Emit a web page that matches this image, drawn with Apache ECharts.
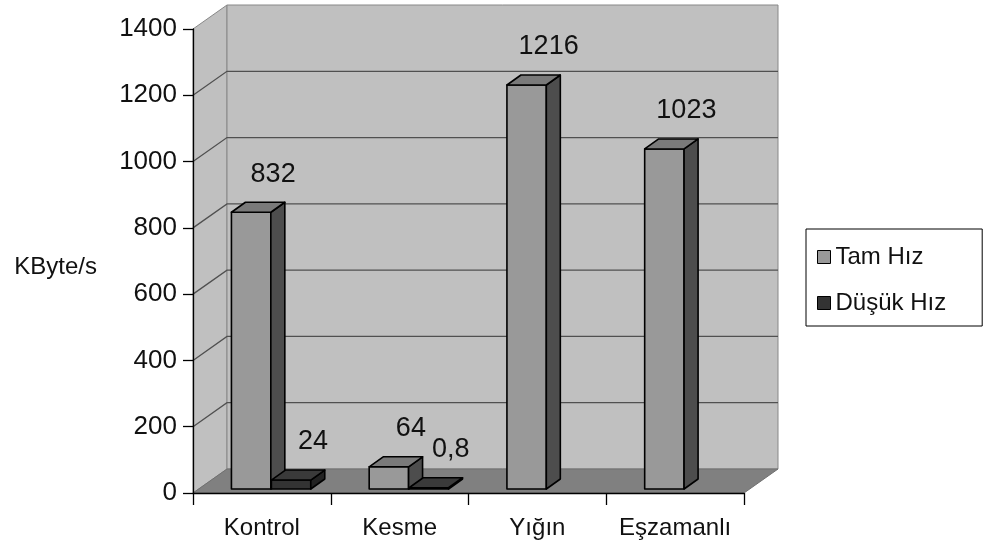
<!DOCTYPE html>
<html>
<head>
<meta charset="utf-8">
<script src="https://cdn.jsdelivr.net/npm/echarts@6/dist/echarts.min.js"></script>
<style>
  html, body { margin: 0; padding: 0; background: #fff; }
  #chart { width: 986px; height: 542px; }
</style>
</head>
<body>
<div id="chart"></div>
<script>
// veriler
const categories = ['Kontrol', 'Kesme', 'Yığın', 'Eşzamanlı'];
const tamHiz = [832, 64, 1216, 1023];
const dusukHiz = [24, 0.8, null, null];
const yMax = 1400;
const yStep = 200;
const yTicks = [0, 200, 400, 600, 800, 1000, 1200, 1400];

const FONT = '"Liberation Sans", Arial, sans-serif';
const WALL_DX = 34, WALL_DY = -24;   // duvar derinliği
const BAR_DX = 14, BAR_DY = -10;     // sütun derinliği

var myChart = echarts.init(document.getElementById('chart'));

// arka duvar, yan duvar, zemin
let renderWalls = (params, api) => {
    const cs = params.coordSys;
    const L = cs.x, T = cs.y, R = cs.x + cs.width, B = cs.y + cs.height;
    let children = [
        { type: 'polygon', shape: { points: [[L, T], [L + WALL_DX, T + WALL_DY], [L + WALL_DX, B + WALL_DY], [L, B]] },
          style: { fill: '#c0c0c0', stroke: '#888', lineWidth: 1 } },
        { type: 'rect', shape: { x: L + WALL_DX, y: T + WALL_DY, width: cs.width, height: cs.height },
          style: { fill: '#c0c0c0', stroke: '#888', lineWidth: 1 } }
    ];
    yTicks.forEach(v => {
        if (v === 0 || v === yMax) return;
        const y = api.coord([0, v])[1];
        children.push({ type: 'polyline', shape: { points: [[L, y], [L + WALL_DX, y + WALL_DY], [R + WALL_DX, y + WALL_DY]] },
            style: { fill: null, stroke: '#505050', lineWidth: 1.3 } });
    });
    children.push({ type: 'polygon', shape: { points: [[L, B], [R, B], [R + WALL_DX, B + WALL_DY], [L + WALL_DX, B + WALL_DY]] },
        style: { fill: '#808080', stroke: '#707070', lineWidth: 1 } });
    return { type: 'group', children: children };
};

// 3B sütun
let makeBar = (shift, colors, fmt) => {
    return (params, api) => {
        const v = api.value(1);
        if (v == null || isNaN(v)) return;
        const i = api.value(0);
        const band = api.size([1, 0])[0];
        const b = api.coord([i, 0]);
        const t = api.coord([i, v]);
        const w = band * 0.286;
        const x0 = b[0] + band * shift;
        const yb = b[1] - 4;
        const yt = t[1] - 5;
        const line = { stroke: '#000', lineWidth: 1.6, lineJoin: 'round' };
        return {
            type: 'group',
            children: [
                { type: 'rect', shape: { x: x0, y: yt, width: w, height: yb - yt },
                  style: Object.assign({ fill: colors[0] }, line) },
                { type: 'polygon', shape: { points: [[x0 + w, yt], [x0 + w + BAR_DX, yt + BAR_DY], [x0 + w + BAR_DX, yb + BAR_DY], [x0 + w, yb]] },
                  style: Object.assign({ fill: colors[1] }, line) },
                { type: 'polygon', shape: { points: [[x0, yt], [x0 + BAR_DX, yt + BAR_DY], [x0 + w + BAR_DX, yt + BAR_DY], [x0 + w, yt]] },
                  style: Object.assign({ fill: colors[2] }, line) },
                { type: 'text', style: { x: x0 + w / 2 + 22, y: yt - 38, text: fmt(v), fill: '#111',
                  font: '27px ' + FONT, align: 'center', verticalAlign: 'middle' } }
            ]
        };
    };
};

let fmtTR = v => String(v).replace('.', ',');

let option = {
    animation: false,
    backgroundColor: '#fff',
    textStyle: { fontFamily: FONT },
    grid: { left: 193, top: 29, width: 551, height: 464 },
    legend: {
        orient: 'vertical',
        left: 806, top: 229,
        data: ['Tam Hız', 'Düşük Hız'],
        icon: 'rect',
        itemWidth: 13, itemHeight: 13,
        itemGap: 20,
        padding: [15, 36, 10, 11],
        borderColor: '#000', borderWidth: 1,
        itemStyle: { borderColor: '#000', borderWidth: 1 },
        textStyle: { fontSize: 24, lineHeight: 26, color: '#111', fontFamily: FONT }
    },
    xAxis: {
        type: 'category',
        data: categories,
        z: 5,
        axisLine: { lineStyle: { color: '#000', width: 1.3 } },
        axisTick: { show: true, interval: 0, length: 12, lineStyle: { color: '#000', width: 1.3 } },
        axisLabel: { interval: 0, fontSize: 24, color: '#111', margin: 23, fontFamily: FONT },
        splitLine: { show: false }
    },
    yAxis: {
        type: 'value',
        min: 0, max: yMax, interval: yStep,
        z: 5,
        name: 'KByte/s',
        nameLocation: 'middle',
        nameRotate: 0,
        nameGap: 96,
        nameTextStyle: { fontSize: 24, color: '#111', fontFamily: FONT, align: 'right', verticalAlign: 'top', lineHeight: 12 },
        axisLine: { show: true, lineStyle: { color: '#000', width: 1.3 } },
        axisTick: { show: true, length: 10, lineStyle: { color: '#000', width: 1.3 } },
        axisLabel: { fontSize: 26, color: '#111', margin: 16, fontFamily: FONT, formatter: v => String(v) },
        splitLine: { show: false }
    },
    series: [
        {
            name: 'walls', type: 'custom', z: 1, silent: true,
            renderItem: renderWalls,
            data: [[0, 0]],
            encode: { x: 0, y: 1 }
        },
        {
            name: 'Tam Hız', type: 'custom', z: 3,
            itemStyle: { color: '#999999' },
            renderItem: makeBar(-0.221, ['#999999', '#4d4d4d', '#7a7a7a'], fmtTR),
            data: tamHiz.map((v, i) => [i, v]),
            encode: { x: 0, y: 1 }
        },
        {
            name: 'Düşük Hız', type: 'custom', z: 3,
            itemStyle: { color: '#333333' },
            renderItem: makeBar(0.069, ['#333333', '#222222', '#3a3a3a'], fmtTR),
            data: dusukHiz.map((v, i) => [i, v]),
            encode: { x: 0, y: 1 }
        }
    ]
};

myChart.setOption(option);
</script>
</body>
</html>
